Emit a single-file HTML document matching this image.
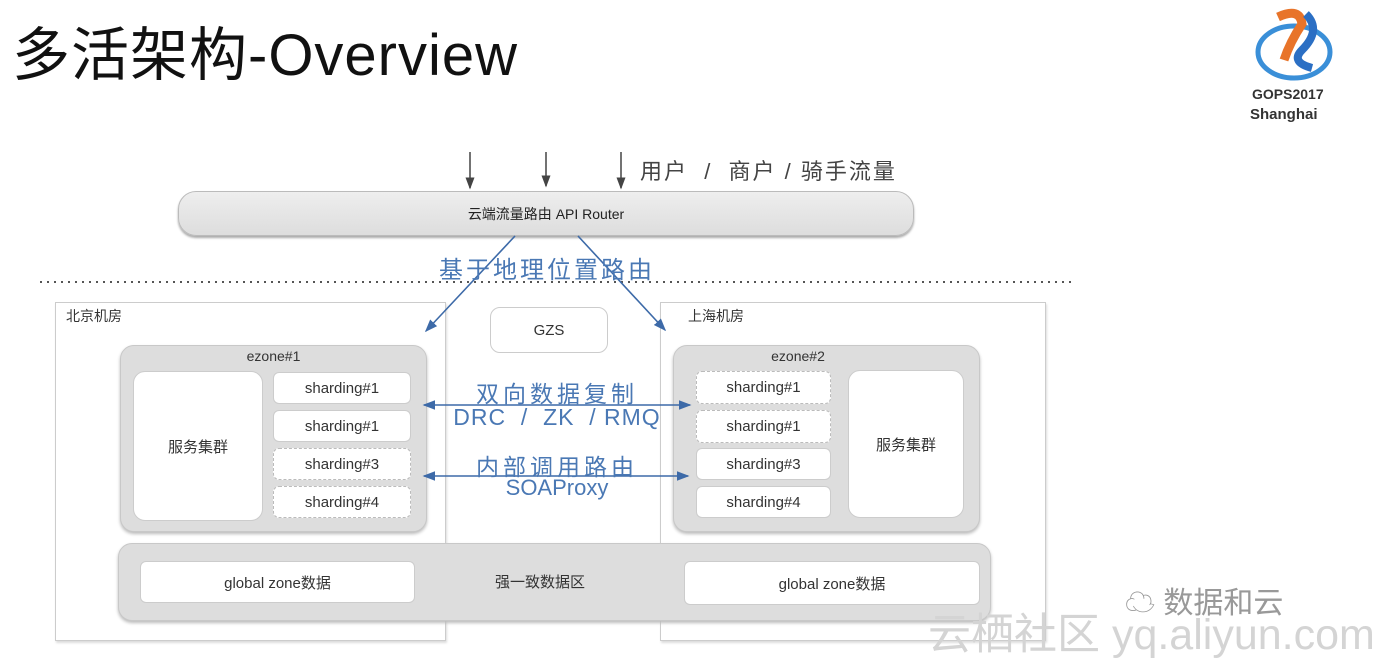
<!DOCTYPE html>
<html><head><meta charset="utf-8"><style>
body{margin:0;width:1400px;height:658px;background:#fff;position:relative;overflow:hidden;font-family:"Liberation Sans","Noto Sans CJK SC",sans-serif}
.a{position:absolute;box-sizing:border-box}
.t{position:absolute;white-space:nowrap}
.sh{position:absolute;box-sizing:border-box;background:#fff;border:1px solid #ccc;border-radius:6px;font-size:15px;color:#333;display:flex;align-items:center;justify-content:center}
.d{border:1.5px dashed #bbb}
.blue{color:#4a78b4;font-size:22px;position:absolute;white-space:nowrap;text-align:center}
</style></head><body>
<div class="t" style="left:12px;top:8px;font-size:58px;color:#111;letter-spacing:1px">多活架构-Overview</div>
<svg class="a" style="left:1250px;top:2px" width="90" height="82" viewBox="0 0 90 82">
<ellipse cx="44" cy="50" rx="36" ry="26" fill="none" stroke="#3a8fd8" stroke-width="5"/>
<path d="M28 15 Q50 5 52 22 Q40 40 34 58" stroke="#e8742a" stroke-width="9" fill="none"/>
<path d="M56 12 Q72 28 52 48 Q40 60 62 66" stroke="#2b6fc4" stroke-width="8" fill="none"/>
</svg>
<div class="t" style="left:1252px;top:86px;font-size:14px;color:#333;font-weight:bold">GOPS2017</div>
<div class="t" style="left:1250px;top:106px;font-size:15px;color:#333;font-weight:bold">Shanghai</div>

<svg class="a" style="left:0;top:0" width="1400" height="658">
<defs><marker id="k" markerWidth="8" markerHeight="8" refX="7" refY="4" orient="auto"><path d="M0,1 L8,4 L0,7z" fill="#444"/></marker></defs>
<g stroke="#444" stroke-width="1.5"><line x1="470" y1="152" x2="470" y2="188" marker-end="url(#k)"/><line x1="546" y1="152" x2="546" y2="186" marker-end="url(#k)"/><line x1="621" y1="152" x2="621" y2="188" marker-end="url(#k)"/></g>
<line x1="40" y1="282" x2="1075" y2="282" stroke="#555" stroke-width="2" stroke-dasharray="2 5"/>
</svg>
<div class="t" style="left:640px;top:154px;font-size:22px;color:#444;letter-spacing:2px">用户 &nbsp;/ &nbsp;商户 / 骑手流量</div>
<div class="a" style="left:178px;top:191px;width:736px;height:45px;border-radius:18px;background:linear-gradient(#eee,#ddd);border:1px solid #bbb;box-shadow:0 2px 2px #aaa;font-size:14px;color:#222;display:flex;align-items:center;justify-content:center">云端流量路由 API Router</div>

<div class="a" style="left:55px;top:302px;width:391px;height:339px;border:1px solid #ccc;box-shadow:1px 2px 2px #ddd"></div>
<div class="a" style="left:660px;top:302px;width:386px;height:339px;border:1px solid #ccc;box-shadow:1px 2px 2px #ddd"></div>
<div class="t" style="left:66px;top:306px;font-size:14px;color:#333">北京机房</div>
<div class="t" style="left:688px;top:306px;font-size:14px;color:#333">上海机房</div>
<div class="a" style="left:490px;top:307px;width:118px;height:46px;border:1px solid #ccc;border-radius:10px;background:#fff;display:flex;align-items:center;justify-content:center;font-size:15px;color:#333">GZS</div>

<div class="a" style="left:120px;top:345px;width:307px;height:187px;background:#ddd;border:1px solid #c8c8c8;border-radius:14px;box-shadow:0 2px 3px #bbb"></div>
<div class="t" style="left:120px;top:348px;width:307px;text-align:center;font-size:14px;color:#333">ezone#1</div>
<div class="sh" style="left:133px;top:371px;width:130px;height:150px;border-radius:12px">服务集群</div>
<div class="sh" style="left:273px;top:372px;width:138px;height:32px">sharding#1</div>
<div class="sh" style="left:273px;top:410px;width:138px;height:32px">sharding#1</div>
<div class="sh d" style="left:273px;top:448px;width:138px;height:32px">sharding#3</div>
<div class="sh d" style="left:273px;top:486px;width:138px;height:32px">sharding#4</div>

<div class="a" style="left:673px;top:345px;width:307px;height:187px;background:#ddd;border:1px solid #c8c8c8;border-radius:14px;box-shadow:0 2px 3px #bbb"></div>
<div class="t" style="left:673px;top:348px;width:250px;text-align:center;font-size:14px;color:#333">ezone#2</div>
<div class="sh d" style="left:696px;top:371px;width:135px;height:33px">sharding#1</div>
<div class="sh d" style="left:696px;top:410px;width:135px;height:33px">sharding#1</div>
<div class="sh" style="left:696px;top:448px;width:135px;height:32px">sharding#3</div>
<div class="sh" style="left:696px;top:486px;width:135px;height:32px">sharding#4</div>
<div class="sh" style="left:848px;top:370px;width:116px;height:148px;border-radius:12px">服务集群</div>

<div class="a" style="left:118px;top:543px;width:873px;height:78px;background:#ddd;border:1px solid #c8c8c8;border-radius:14px;box-shadow:0 2px 3px #bbb"></div>
<div class="sh" style="left:140px;top:561px;width:275px;height:42px">global zone数据</div>
<div class="sh" style="left:684px;top:561px;width:296px;height:44px">global zone数据</div>
<div class="t" style="left:495px;top:571px;font-size:15px;color:#333">强一致数据区</div>

<svg class="a" style="left:0;top:0" width="1400" height="658">
<defs><marker id="b" markerWidth="8" markerHeight="8" refX="7" refY="4" orient="auto-start-reverse"><path d="M0,1 L8,4 L0,7z" fill="#3d6aa8"/></marker></defs>
<g stroke="#3d6aa8" stroke-width="1.6" fill="none">
<line x1="515" y1="236" x2="426" y2="331" marker-end="url(#b)"/>
<line x1="578" y1="236" x2="665" y2="330" marker-end="url(#b)"/>
<line x1="424" y1="405" x2="690" y2="405" marker-start="url(#b)" marker-end="url(#b)"/>
<line x1="424" y1="476" x2="688" y2="476" marker-start="url(#b)" marker-end="url(#b)"/>
</g></svg>
<div class="blue" style="left:437px;top:250px;width:220px;font-size:24px;letter-spacing:3px">基于地理位置路由</div>
<div class="blue" style="left:440px;top:375px;width:234px;font-size:23px;letter-spacing:4px">双向数据复制</div>
<div class="blue" style="left:440px;top:404px;width:234px;font-size:23px;letter-spacing:1px">DRC &nbsp;/ &nbsp;ZK &nbsp;/ RMQ</div>
<div class="blue" style="left:440px;top:448px;width:234px;font-size:23px;letter-spacing:4px">内部调用路由</div>
<div class="blue" style="left:440px;top:475px;width:234px;font-size:22px">SOAProxy</div>

<div class="t" style="left:1125px;top:578px;font-size:30px;color:#999">☁ 数据和云</div>
<div class="t" style="left:928px;top:600px;font-size:43px;color:#d4d4d4">云栖社区 yq.aliyun.com</div>
</body></html>
